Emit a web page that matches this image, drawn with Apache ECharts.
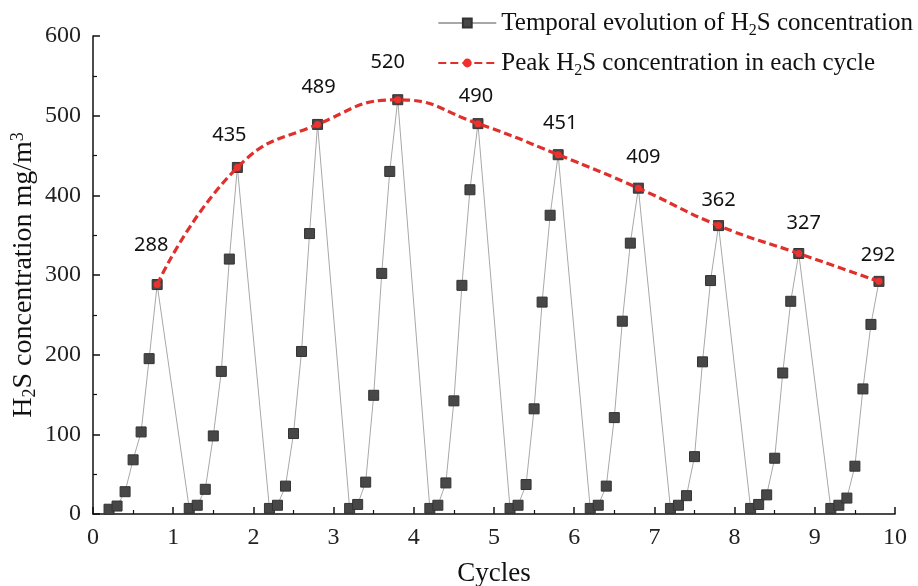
<!DOCTYPE html>
<html>
<head>
<meta charset="utf-8">
<script src="https://cdn.jsdelivr.net/npm/echarts@6/dist/echarts.min.js"></script>
<style>
  html, body { margin: 0; padding: 0; background: #fff; }
  #main { width: 918px; height: 586px; }
</style>
</head>
<body>
<div id="main"></div>
<script>
// H2S concentration over cycles

var timeX = [
  0.2, 0.3, 0.4, 0.5, 0.6, 0.7, 0.8,
  1.2, 1.3, 1.4, 1.5, 1.6, 1.7, 1.8,
  2.2, 2.3, 2.4, 2.5, 2.6, 2.7, 2.8,
  3.2, 3.3, 3.4, 3.5, 3.6, 3.7, 3.8,
  4.2, 4.3, 4.4, 4.5, 4.6, 4.7, 4.8,
  5.2, 5.3, 5.4, 5.5, 5.6, 5.7, 5.8,
  6.2, 6.3, 6.4, 6.5, 6.6, 6.7, 6.8,
  7.2, 7.3, 7.4, 7.5, 7.6, 7.7, 7.8,
  8.2, 8.3, 8.4, 8.5, 8.6, 8.7, 8.8,
  9.2, 9.3, 9.4, 9.5, 9.6, 9.7, 9.8
];
var h2s = [
  6, 10, 28, 68, 103, 195, 288,
  7, 11, 31, 98, 179, 320, 435,
  7, 11, 35, 101, 204, 352, 489,
  7, 12, 40, 149, 302, 430, 520,
  7, 11, 39, 142, 287, 407, 490,
  7, 11, 37, 132, 266, 375, 451,
  7, 11, 35, 121, 242, 340, 409,
  7, 11, 23, 72, 191, 293, 362,
  7, 12, 24, 70, 177, 267, 327,
  7, 11, 20, 60, 157, 238, 292
];
var peakX = [0.8, 1.8, 2.8, 3.8, 4.8, 5.8, 6.8, 7.8, 8.8, 9.8];
var peakValue = [288, 435, 489, 520, 490, 451, 409, 362, 327, 292];
var xTicks = ['0', '1', '2', '3', '4', '5', '6', '7', '8', '9', '10'];
var yTicks = ['0', '100', '200', '300', '400', '500', '600'];

// label nudges so numbers sit where they do in the figure
var labelShift = [[-6, -17], [-8, -10], [1, -15], [-10, -15], [-2, -5], [2, -9], [5, -8], [0, -3], [5, -8], [-1, -4]];

var chart = echarts.init(document.getElementById('main'));

var serif = '"Liberation Serif", "DejaVu Serif", serif';
var nameA = 'Temporal evolution of H2S concentration';
var nameB = 'Peak H2S concentration in each cycle';

var temporal = timeX.map(function (x, i) { return [x, h2s[i]]; });
var peaks = peakX.map(function (x, i) {
  return {
    value: [x, peakValue[i]],
    label: { offset: labelShift[i] }
  };
});

var option = {
  animation: false,
  grid: { left: 93, right: 23, top: 36, bottom: 72, outerBoundsMode: 'none' },
  legend: {
    orient: 'vertical',
    right: 0,
    top: 2,
    itemGap: 8,
    itemWidth: 58,
    itemHeight: 11,
    data: [nameA, nameB],
    formatter: function (n) {
      return n.replace('H2S', 'H{sub|2}S');
    },
    textStyle: {
      fontFamily: serif,
      fontSize: 25,
      color: '#111',
      lineHeight: 32,
      rich: {
        sub: { fontFamily: serif, fontSize: 16, color: '#111', verticalAlign: 'bottom', lineHeight: 18, padding: [12, 0, 0, 0] }
      }
    }
  },
  xAxis: {
    type: 'value',
    min: 0,
    max: 10,
    interval: 1,
    name: 'Cycles',
    nameLocation: 'middle',
    nameGap: 46,
    nameMoveOverlap: false,
    nameTextStyle: { fontFamily: serif, fontSize: 27, color: '#111' },
    axisLine: { lineStyle: { color: '#111', width: 1.5 } },
    axisTick: { inside: true, length: 7, lineStyle: { color: '#111', width: 1.5 } },
    minorTick: { show: true, splitNumber: 2, length: 4, lineStyle: { color: '#111', width: 1.2 } },
    axisLabel: {
      margin: 12,
      fontFamily: serif,
      fontSize: 24,
      color: '#222',
      formatter: function (v) { return xTicks[Math.round(v)]; }
    },
    splitLine: { show: false }
  },
  yAxis: {
    type: 'value',
    min: 0,
    max: 600,
    interval: 100,
    name: 'H{sub|2}S concentration mg/m{sup|3}',
    nameLocation: 'middle',
    nameGap: 54,
    nameMoveOverlap: false,
    nameRotate: 90,
    nameTextStyle: {
      fontFamily: serif,
      fontSize: 28,
      color: '#111',
      rich: {
        sub: { fontFamily: serif, fontSize: 18, color: '#111', verticalAlign: 'bottom', padding: [12, 0, 0, 0] },
        sup: { fontFamily: serif, fontSize: 18, color: '#111', verticalAlign: 'top', padding: [0, 0, 12, 0] }
      }
    },
    axisLine: { show: true, lineStyle: { color: '#111', width: 1.5 } },
    axisTick: { show: true, inside: true, length: 7, lineStyle: { color: '#111', width: 1.5 } },
    minorTick: { show: true, splitNumber: 2, length: 4, lineStyle: { color: '#111', width: 1.2 } },
    axisLabel: {
      margin: 12,
      fontFamily: serif,
      fontSize: 24,
      color: '#222',
      formatter: function (v) { return yTicks[Math.round(v / 100)]; }
    },
    splitLine: { show: false }
  },
  series: [
    {
      name: nameA,
      type: 'line',
      data: temporal,
      symbol: 'rect',
      symbolSize: 10,
      lineStyle: { color: '#a8a8a8', width: 1 },
      itemStyle: { color: '#474747', borderColor: '#333', borderWidth: 1 },
      z: 2
    },
    {
      name: nameB,
      type: 'line',
      data: peaks,
      smooth: 0.5,
      symbol: 'circle',
      symbolSize: 7,
      lineStyle: { color: '#e0302c', width: 3.2, type: [8, 4] },
      itemStyle: { color: '#f0302c' },
      label: {
        show: true,
        position: 'top',
        distance: 9,
        fontFamily: '"Noto Sans", "DejaVu Sans", sans-serif',
        fontSize: 20,
        color: '#111'
      },
      z: 3
    }
  ]
};

chart.setOption(option);
window.onresize = function () { chart.resize(); };
</script>
</body>
</html>
